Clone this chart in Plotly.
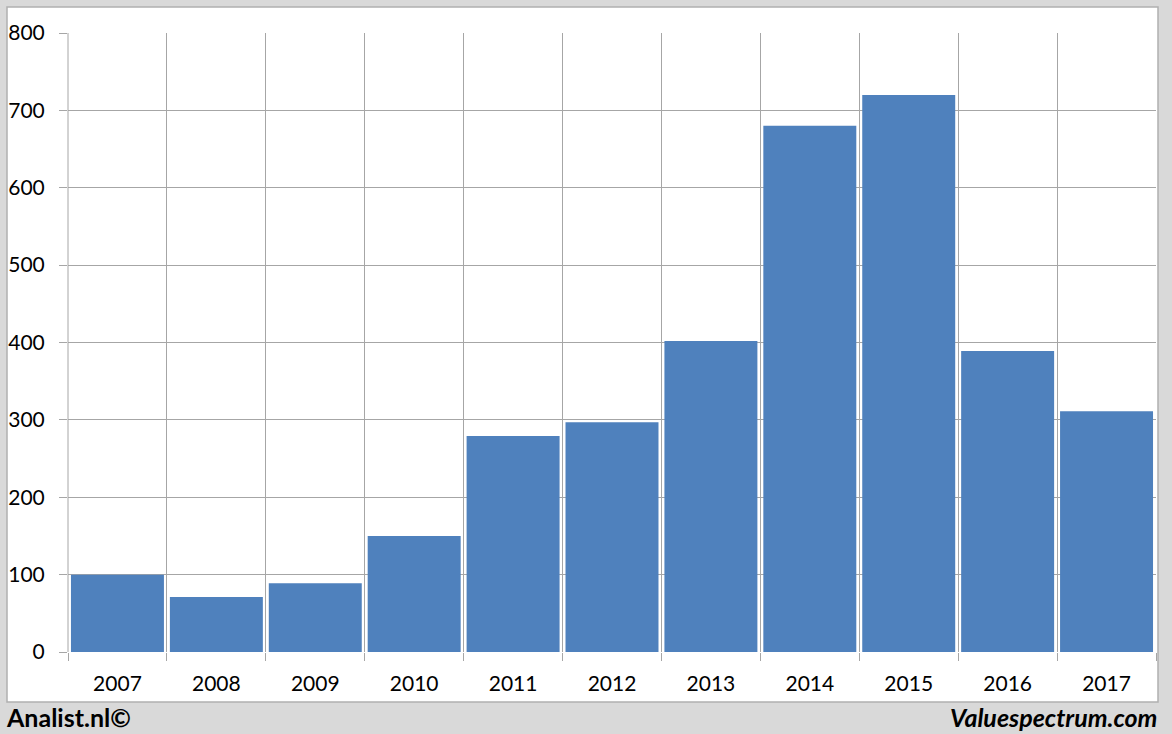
import plotly.graph_objects as go

years = ["2007", "2008", "2009", "2010", "2011", "2012", "2013", "2014", "2015", "2016", "2017"]
values = [100, 71, 89, 150, 279, 297, 402, 680, 720, 389, 311]
y_ticks = [0, 100, 200, 300, 400, 500, 600, 700, 800]

W, H = 1172, 734
L, R, T, B = 68, 16, 33, 82
pw, ph = W - L - R, H - T - B

def px_x(p):
    return (p - L) / pw

def px_y(p):
    return (H - B - p) / ph

fig = go.Figure(go.Bar(
    x=years, y=values,
    marker=dict(color="#4f81bd", line=dict(width=0)),
))

fig.update_layout(
    width=W, height=H,
    margin=dict(l=L, r=R, t=T, b=B, autoexpand=False),
    paper_bgcolor="#d9d9d9",
    plot_bgcolor="white",
    bargap=0.06,
    showlegend=False,
    font=dict(family="Lato, Carlito, sans-serif", color="black"),
    xaxis=dict(
        type="category",
        tickson="boundaries",
        showgrid=True, gridcolor="#a6a6a6", gridwidth=1,
        ticks="outside", ticklen=8, tickcolor="#a6a6a6",
        tickfont=dict(size=21),
        ticklabelstandoff=17,
        showline=False, zeroline=False,
        range=[-0.5, len(years) - 0.5],
        automargin=False,
        fixedrange=True,
    ),
    yaxis=dict(
        range=[0, 800],
        tickvals=y_ticks,
        showgrid=True, gridcolor="#a6a6a6", gridwidth=1,
        ticks="outside", ticklen=8, tickcolor="#a6a6a6",
        tickfont=dict(size=21),
        ticklabelstandoff=10,
        zeroline=False, showline=False,
        automargin=False,
        fixedrange=True,
    ),
    shapes=[
        dict(type="rect", xref="paper", yref="paper",
             x0=px_x(7), x1=px_x(1158), y0=px_y(702), y1=px_y(7),
             fillcolor="white", line=dict(color="#b0b0b0", width=1.5),
             layer="below"),
        dict(type="line", xref="paper", yref="paper",
             x0=0, x1=0, y0=0, y1=1,
             line=dict(color="#a6a6a6", width=1)),
    ],
    annotations=[
        dict(text="<b>Analist.nl©</b>", xref="paper", yref="paper",
             x=px_x(4), y=px_y(717), xanchor="left", yanchor="middle",
             showarrow=False, font=dict(size=25, family="Lato, sans-serif", color="black")),
        dict(text="<b><i>Valuespectrum.com</i></b>", xref="paper", yref="paper",
             x=px_x(1159), y=px_y(717), xanchor="right", yanchor="middle",
             showarrow=False, font=dict(size=25, family="Lato, sans-serif", color="black")),
    ],
)

fig.write_html("out.html", config={"displayModeBar": False},
               post_script="document.body.style.margin='0';document.body.style.overflow='hidden';")
